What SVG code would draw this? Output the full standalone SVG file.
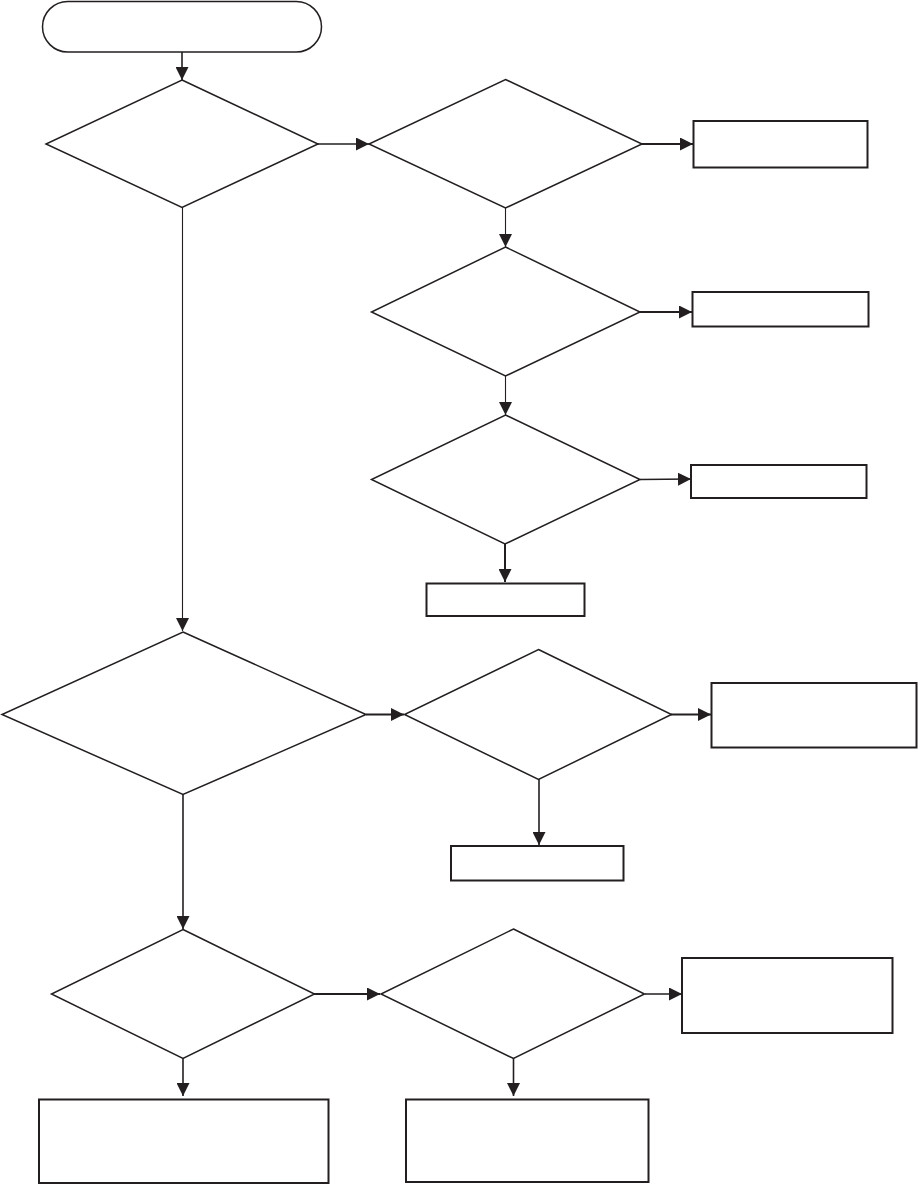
<svg xmlns="http://www.w3.org/2000/svg" width="918" height="1184" viewBox="0 0 918 1184">
<style>
.n{fill:#fff;stroke:#231f20;stroke-width:1.5;stroke-linejoin:miter}
.b{fill:#fff;stroke:#231f20;stroke-width:2}
.c{fill:none;stroke:#231f20;stroke-width:1.6}
.t{stroke-width:2}
.th{stroke-width:1.1}
</style>
<defs>
<marker id="ah" markerUnits="userSpaceOnUse" markerWidth="14" markerHeight="13" refX="13" refY="6.5" orient="auto">
<path d="M0,0 L13,6.5 L0,13 Z" fill="#231f20"/>
</marker>
</defs>
<rect width="918" height="1184" fill="#fff"/>
<g id="connectors">
<line class="c" x1="182" y1="52" x2="182" y2="80" marker-end="url(#ah)"/>
<line class="c" x1="318" y1="144" x2="369" y2="144" marker-end="url(#ah)"/>
<line class="c t" x1="642" y1="144" x2="693" y2="144" marker-end="url(#ah)"/>
<line class="c th" x1="505.5" y1="208" x2="505.5" y2="247" marker-end="url(#ah)"/>
<line class="c t" x1="640" y1="312" x2="692" y2="312" marker-end="url(#ah)"/>
<line class="c th" x1="505.5" y1="376" x2="505.5" y2="415" marker-end="url(#ah)"/>
<line class="c" x1="640" y1="479.5" x2="691" y2="479" marker-end="url(#ah)"/>
<line class="c t" x1="505" y1="544" x2="505" y2="582" marker-end="url(#ah)"/>
<line class="c th" x1="182.5" y1="207" x2="182.5" y2="631" marker-end="url(#ah)"/>
<line class="c t" x1="366" y1="714.5" x2="404" y2="714.5" marker-end="url(#ah)"/>
<line class="c t" x1="671" y1="714.5" x2="711" y2="714.5" marker-end="url(#ah)"/>
<line class="c" x1="539" y1="779" x2="539" y2="845" marker-end="url(#ah)"/>
<line class="c" x1="183" y1="794" x2="183" y2="929" marker-end="url(#ah)"/>
<line class="c t" x1="314" y1="994" x2="380" y2="994" marker-end="url(#ah)"/>
<line class="c" x1="645" y1="994" x2="682" y2="994" marker-end="url(#ah)"/>
<line class="c" x1="183" y1="1058" x2="183" y2="1096" marker-end="url(#ah)"/>
<line class="c" x1="513.5" y1="1058" x2="513.5" y2="1096" marker-end="url(#ah)"/>
</g>
<g id="start"><rect class="n" x="42.5" y="1.5" width="279" height="50.5" rx="25.25"/></g>
<g id="d1"><polygon class="n" points="182,80 318,144 182,207.5 46,144"/></g>
<g id="d2"><polygon class="n" points="505.5,79.5 642,144 505.5,208 369,144"/></g>
<g id="b1"><rect class="b" x="693.5" y="121" width="174" height="46.5"/></g>
<g id="d3"><polygon class="n" points="505.5,247 640,312 505.5,376 371.5,312"/></g>
<g id="b2"><rect class="b" x="692.5" y="292" width="176" height="34.5"/></g>
<g id="d4"><polygon class="n" points="505.5,415 640,479.5 505,544 371.5,479.5"/></g>
<g id="b3"><rect class="b" x="691" y="465" width="175.5" height="33"/></g>
<g id="b4"><rect class="b" x="426.5" y="583.5" width="158" height="32.5"/></g>
<g id="d5"><polygon class="n" points="183,632 366,714.5 183,794.5 2,714.5"/></g>
<g id="d6"><polygon class="n" points="538.5,649.5 671.5,714.5 538.5,779.5 404.5,714.5"/></g>
<g id="b5"><rect class="b" x="711.5" y="683" width="205" height="64.5"/></g>
<g id="b6"><rect class="b" x="451" y="846" width="172.5" height="34.5"/></g>
<g id="d7"><polygon class="n" points="183,929.5 314.5,994 183,1058.5 51.5,994"/></g>
<g id="d8"><polygon class="n" points="513.5,929 644.5,994 513.5,1058.5 381,994"/></g>
<g id="b7"><rect class="b" x="682" y="958" width="210.5" height="75"/></g>
<g id="b8"><rect class="b" x="39" y="1099.5" width="289.5" height="83.5"/></g>
<g id="b9"><rect class="b" x="406" y="1099.5" width="242.5" height="82.5"/></g>
</svg>
